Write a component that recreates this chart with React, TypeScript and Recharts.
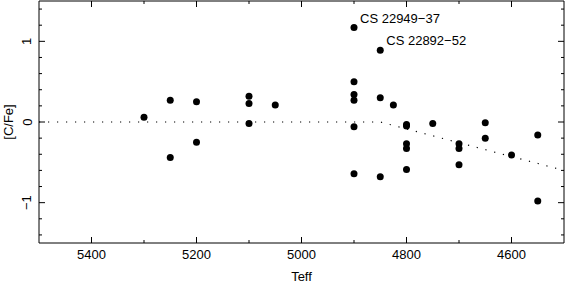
import React from "react";
import { ScatterChart, Scatter, XAxis, YAxis } from "recharts";

// stars: effective temperature and [C/Fe]
const TEFF = [
  5300, 5250, 5250, 5200, 5200, 5100, 5100, 5100, 5050, 4900, 4900, 4900, 4900, 4900, 4900,
  4850, 4850, 4850, 4825, 4800, 4800, 4800, 4800, 4800, 4750, 4700, 4700, 4700, 4650, 4650,
  4600, 4550, 4550,
];
const CFE = [
  0.06, 0.27, -0.44, 0.25, -0.25, 0.32, 0.23, -0.02, 0.21, 1.17, 0.5, 0.34, 0.27, -0.06, -0.64,
  0.89, 0.3, -0.68, 0.21, -0.03, -0.05, -0.27, -0.33, -0.59, -0.02, -0.27, -0.33, -0.53, -0.01, -0.2,
  -0.41, -0.16, -0.98,
];

// labelled stars
const NOTE_TEFF = [4900, 4850];
const NOTE_CFE = [1.17, 0.89];
const NOTE_NAMES = ["CS 22949\u221237", "CS 22892\u221252"];

// dotted reference curve
const CURVE_TEFF = [5500, 4850, 4500];
const CURVE_CFE = [0, 0, -0.6];

const X_TICKS = [5400, 5300, 5200, 5100, 5000, 4900, 4800, 4700, 4600];
const Y_TICKS = [-1.4, -1.2, -1, -0.8, -0.6, -0.4, -0.2, 0, 0.2, 0.4, 0.6, 0.8, 1, 1.2, 1.4];

const points = TEFF.map((t, i) => ({ teff: t, cfe: CFE[i] }));
const notes = NOTE_TEFF.map((t, i) => ({ teff: t, cfe: NOTE_CFE[i], name: NOTE_NAMES[i] }));
const curve = CURVE_TEFF.map((t, i) => ({ teff: t, cfe: CURVE_CFE[i] }));

const FONT = "'Liberation Sans', Arial, sans-serif";
const fmtY = (v: number) => (v < 0 ? "\u2212" + Math.abs(v) : String(v));

const BottomTick = ({ x, y, payload }: any) => {
  const major = payload.value % 200 === 0;
  return (
    <g>
      <line x1={x} x2={x} y1={y} y2={y - (major ? 6 : 3)} stroke="#000" />
      {major && (
        <text x={x} y={y + 15.5} textAnchor="middle" fontSize={13} fontFamily={FONT} fill="#000">
          {payload.value}
        </text>
      )}
    </g>
  );
};

const TopTick = ({ x, y, payload }: any) => {
  const major = payload.value % 200 === 0;
  return <line x1={x} x2={x} y1={y} y2={y + (major ? 6 : 3)} stroke="#000" />;
};

const isMajorY = (v: number) => Math.abs(v - Math.round(v)) < 1e-6;

const LeftTick = ({ x, y, payload }: any) => {
  const major = isMajorY(payload.value);
  const tx = x - 7.5;
  return (
    <g>
      <line x1={x} x2={x + (major ? 6 : 3)} y1={y} y2={y} stroke="#000" />
      {major && (
        <text
          x={tx}
          y={y}
          transform={`rotate(-90, ${tx}, ${y})`}
          textAnchor="middle"
          fontSize={13}
          fontFamily={FONT}
          fill="#000"
        >
          {fmtY(Math.round(payload.value))}
        </text>
      )}
    </g>
  );
};

const RightTick = ({ x, y, payload }: any) => {
  const major = isMajorY(payload.value);
  return <line x1={x} x2={x - (major ? 6 : 3)} y1={y} y2={y} stroke="#000" />;
};

const Dot = (p: any) => <circle cx={p.cx} cy={p.cy} r={3.5} fill="#000" />;
const NoDot = () => <g />;
const NoteText = (p: any) => (
  <text x={p.cx + 6} y={p.cy - 5} fontSize={13} fontFamily={FONT} fill="#000">
    {p.payload.name}
  </text>
);

const axisCommon = {
  dataKey: "teff",
  type: "number" as const,
  domain: [4500, 5500],
  reversed: true,
  ticks: X_TICKS,
  interval: 0 as const,
  height: 1,
  tickSize: 0,
  tickMargin: 0,
  tickLine: false,
  axisLine: { stroke: "#000" },
  allowDataOverflow: true,
};

const yCommon = {
  dataKey: "cfe",
  type: "number" as const,
  domain: [-1.5, 1.5],
  ticks: Y_TICKS,
  interval: 0 as const,
  width: 1,
  tickSize: 0,
  tickMargin: 0,
  tickLine: false,
  axisLine: { stroke: "#000" },
  allowDataOverflow: true,
};

export default function App() {
  return (
    <div style={{ position: "absolute", left: 0, top: 0, width: 566, height: 283, background: "#fff" }}>
      <ScatterChart width={566} height={283} margin={{ top: 0, right: 1, bottom: 39, left: 38 }}>
        <XAxis
          {...axisCommon}
          tick={<BottomTick />}
          label={(props: any) => {
            const vb = props.viewBox;
            return (
              <text x={vb.x + vb.width / 2} y={vb.y + 38} textAnchor="middle" fontSize={13} fontFamily={FONT} fill="#000">
                Teff
              </text>
            );
          }}
        />
        <XAxis {...axisCommon} xAxisId="top" orientation="top" tick={<TopTick />} />
        <YAxis
          {...yCommon}
          tick={<LeftTick />}
          label={(props: any) => {
            const vb = props.viewBox;
            const lx = vb.x + vb.width - 26;
            const ly = vb.y + vb.height / 2;
            return (
              <text
                x={lx}
                y={ly}
                transform={`rotate(-90, ${lx}, ${ly})`}
                textAnchor="middle"
                fontSize={13}
                fontFamily={FONT}
                fill="#000"
              >
                [C/Fe]
              </text>
            );
          }}
        />
        <YAxis {...yCommon} yAxisId="right" orientation="right" tick={<RightTick />} />
        <Scatter
          data={curve}
          line={{ stroke: "#000", strokeDasharray: "1.2 7.8", strokeWidth: 1.2 }}
          lineType="joint"
          shape={NoDot}
          isAnimationActive={false}
        />
        <Scatter data={points} shape={Dot} isAnimationActive={false} />
        <Scatter data={notes} shape={NoteText} isAnimationActive={false} />
      </ScatterChart>
    </div>
  );
}
